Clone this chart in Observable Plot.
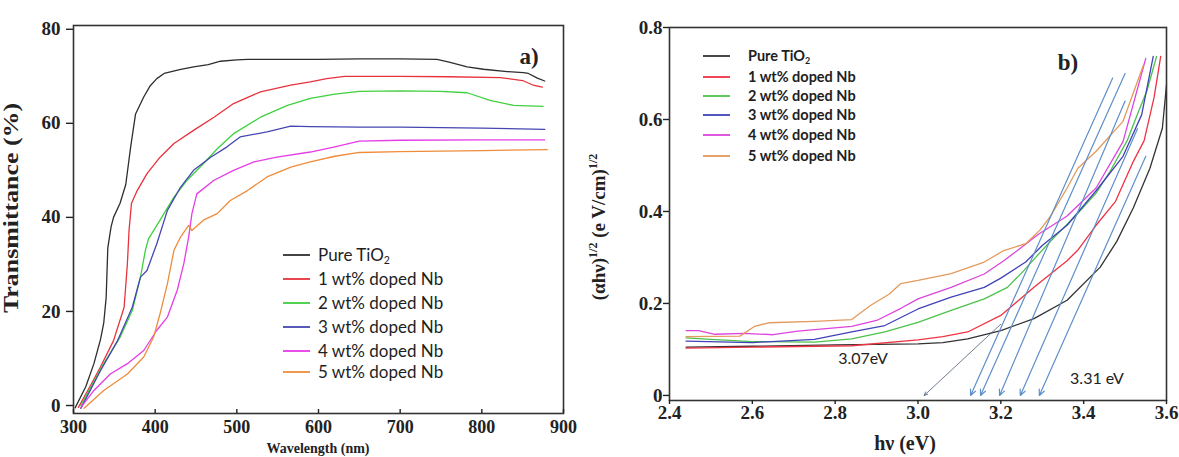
<!DOCTYPE html>
<html><head><meta charset="utf-8">
<script src="https://cdn.jsdelivr.net/npm/d3@7"></script>
<script src="https://cdn.jsdelivr.net/npm/@observablehq/plot@0.6"></script>
<style>
html,body{margin:0;padding:0;background:#fff;overflow:hidden}
#wrap{position:relative;width:1179px;height:457px;overflow:hidden}
#a{position:absolute;left:0;top:0}
#b{position:absolute;left:590px;top:0}
</style></head><body><div id="wrap"><div id="a"></div><div id="b"></div></div>
<script>
// ---------- Data: panel a) Transmittance ----------
const seriesNames = ["Pure TiO2","1 wt% doped Nb","2 wt% doped Nb","3 wt% doped Nb","4 wt% doped Nb","5 wt% doped Nb"];
const xTicksA = [300,400,500,600,700,800,900];
const yTicksA = [0,20,40,60,80];

const pureWl = [302,315,325,333,337,340,342,346,349,357,364,370,376,386,394,402,411,430,447,465,480,500,513,550,600,650,700,745,760,782,802,831,851,857,868,877];
const pureT  = [-0.5,4,8.9,14,17.5,23,33.5,38,40,43,47,55,62,65.6,68,69.5,70.6,71.4,72,72.5,73.2,73.5,73.6,73.6,73.6,73.7,73.7,73.6,73,72,71.5,71,70.8,70.6,69.6,69];
const nb1Wl = [306,320,333,349,362,366,368,371,378,390,406,423,447,472,496,529,566,590,610,632,700,760,823,850,863,874];
const nb1T  = [-0.4,4,8.2,13.8,20.9,30.2,37.2,43,45.7,49.3,52.8,55.7,58.5,61.3,64.2,66.7,68.1,68.8,69.5,70,70,69.9,69.7,69.1,68.1,67.7];
const nb2Wl = [309,337,357,372,382,388,392,406,423,439,459,476,496,529,562,590,620,650,700,749,782,810,839,875];
const nb2T  = [0,8.9,14.5,20.2,27.3,33,35.5,39.4,44.3,47.9,51.4,54.6,57.8,61.3,63.8,65.3,66.2,66.8,66.9,66.8,66.5,64.9,63.8,63.6];
const nb3Wl = [309,333,354,372,382,390,402,415,431,447,468,488,504,537,566,590,650,700,800,877];
const nb3T  = [-0.6,7.4,13.8,20.9,27.3,28.7,34.4,41.5,46.4,50,52.8,55,57.1,58.2,59.4,59.3,59.2,59.2,59,58.7];
const nb4Wl = [309,325,345,366,386,402,415,427,435,441,445,451,472,496,521,549,590,620,650,700,800,877];
const nb4T  = [-0.4,3.2,6.7,8.9,11.7,16,18.8,24.5,30.1,35.8,40.8,45,47.9,50,51.8,52.8,53.9,55,56.2,56.4,56.5,56.5];
const nb5Wl = [313,337,366,386,398,406,415,423,431,441,445,459,476,492,513,537,566,590,620,650,700,800,880];
const nb5T  = [-0.6,3.2,6.7,10.3,14.5,19.5,25.9,33,35.8,38.3,37.2,39.4,40.8,43.6,45.7,48.6,50.7,51.8,53,53.8,54,54.2,54.4];

// ---------- Data: panel b) Tauc plot ----------
const xTicksB = [2.4,2.6,2.8,3.0,3.2,3.4,3.6];
const xTickLabelsB = ["2.4","2.6","2.8","3.0","3.2","3.4","3.6"];
const yTicksB = [0,0.2,0.4,0.6,0.8];
const yTickLabelsB = ["0","0.2","0.4","0.6","0.8"];

const pureE = [2.44,2.6,2.8,3.0,3.06,3.12,3.2,3.28,3.36,3.44,3.48,3.52,3.56,3.59,3.6];
const pureV = [0.105,0.107,0.11,0.112,0.115,0.123,0.141,0.167,0.207,0.279,0.335,0.408,0.494,0.581,0.675];
const nb1E = [2.44,2.6,2.84,3.0,3.06,3.12,3.2,3.28,3.36,3.385,3.43,3.477,3.52,3.546,3.57,3.586];
const nb1V = [0.103,0.105,0.108,0.121,0.128,0.138,0.174,0.235,0.293,0.315,0.37,0.422,0.509,0.554,0.648,0.737];
const nb2E = [2.44,2.5,2.6,2.75,2.84,2.92,3.0,3.08,3.16,3.216,3.256,3.288,3.33,3.38,3.43,3.465,3.505,3.53,3.553,3.576];
const nb2V = [0.125,0.122,0.117,0.116,0.123,0.138,0.159,0.185,0.21,0.235,0.272,0.304,0.345,0.39,0.44,0.489,0.554,0.612,0.663,0.737];
const nb3E = [2.44,2.6,2.75,2.84,2.92,3.0,3.08,3.16,3.2,3.26,3.3,3.36,3.43,3.495,3.54,3.568];
const nb3V = [0.118,0.115,0.122,0.138,0.152,0.188,0.214,0.235,0.255,0.29,0.326,0.37,0.445,0.52,0.61,0.737];
const nb4E = [2.44,2.47,2.51,2.58,2.65,2.71,2.84,2.9,2.96,3.0,3.08,3.16,3.207,3.24,3.29,3.36,3.43,3.495,3.55];
const nb4V = [0.141,0.141,0.133,0.135,0.132,0.14,0.15,0.163,0.19,0.21,0.235,0.264,0.293,0.315,0.35,0.39,0.451,0.552,0.733];
const nb5E = [2.44,2.57,2.605,2.64,2.75,2.84,2.886,2.93,2.958,3.0,3.08,3.16,3.207,3.26,3.295,3.32,3.36,3.386,3.43,3.495,3.545];
const nb5V = [0.128,0.129,0.15,0.158,0.161,0.165,0.196,0.22,0.243,0.25,0.265,0.29,0.315,0.33,0.36,0.39,0.451,0.494,0.531,0.596,0.72];

// tangent (extrapolation) arrows: start on curve, end on the energy axis
const tangentTopE = [3.47,3.50,3.50,3.53,3.55];
const tangentTopV = [0.69,0.70,0.64,0.58,0.52];
const tangentEndE = [3.127,3.151,3.197,3.247,3.293];
const guideTopE = [3.20];
const guideTopV = [0.155];
const guideEndE = [3.015];

const colorsA = ["#2e2e2e","#e8323c","#3fd03f","#4646b2","#e63ce6","#ee8c3c"];
const colorsB = ["#333333","#ee3344","#4cc24c","#4242b8","#dd44dd","#e39a5c"];

// ---------- build tidy tables ----------
function tidy(pairs, xk, yk) {
  const out = [];
  pairs.forEach(([xs, ys], i) => xs.forEach((x, j) => out.push({s: seriesNames[i], [xk]: x, [yk]: ys[j]})));
  return out;
}
const dataA = tidy([[pureWl,pureT],[nb1Wl,nb1T],[nb2Wl,nb2T],[nb3Wl,nb3T],[nb4Wl,nb4T],[nb5Wl,nb5T]], "x", "y");
const dataB = tidy([[pureE,pureV],[nb1E,nb1V],[nb2E,nb2V],[nb3E,nb3V],[nb4E,nb4V],[nb5E,nb5V]], "x", "y");
const tangents = tangentTopE.map((e, i) => ({x1: e, y1: tangentTopV[i], x2: tangentEndE[i], y2: 0}));
const guides = guideTopE.map((e, i) => ({x1: e, y1: guideTopV[i], x2: guideEndE[i], y2: 0}));

const serif = "'Liberation Serif', 'Times New Roman', serif";
const sans = "Lato, 'Open Sans', 'Liberation Sans', sans-serif";

// ---------- panel a ----------
const plotA = Plot.plot({
  width: 590, height: 457,
  marginLeft: 73, marginRight: 27, marginTop: 25, marginBottom: 44,
  style: {background: "white", color: "#222", overflow: "visible"},
  x: {domain: [300, 900]},
  y: {domain: [-1.7, 80.8]},
  color: {domain: seriesNames, range: colorsA},
  marks: [
    Plot.line(dataA, {x: "x", y: "y", z: "s", stroke: "s", strokeWidth: 1.3}),
    Plot.frame({stroke: "#333", strokeWidth: 1.6}),
    Plot.axisX({ticks: xTicksA, tickSize: -4, tickPadding: 11, label: null, fontSize: 18, fontWeight: "bold", fontFamily: serif, strokeWidth: 1.4}),
    Plot.axisY({ticks: yTicksA, tickSize: 7, tickPadding: 6, label: null, fontSize: 19, fontWeight: "bold", fontFamily: serif, strokeWidth: 1.4})
  ]
});
document.getElementById("a").appendChild(plotA);

// ---------- panel b ----------
const plotB = Plot.plot({
  width: 589, height: 457,
  marginLeft: 79, marginRight: 13, marginTop: 27, marginBottom: 57,
  style: {background: "white", color: "#222", overflow: "visible"},
  x: {domain: [2.4, 3.6]},
  y: {domain: [-0.011, 0.8]},
  color: {domain: seriesNames, range: colorsB},
  marks: [
    Plot.line(dataB, {x: "x", y: "y", z: "s", stroke: "s", strokeWidth: 1.3}),
    Plot.arrow(guides, {x1: "x1", y1: "y1", x2: "x2", y2: "y2", stroke: "#4d5d74", strokeWidth: 0.8, headLength: 7, headAngle: 50}),
    Plot.arrow(tangents, {x1: "x1", y1: "y1", x2: "x2", y2: "y2", stroke: "#5f8fca", strokeWidth: 1.2, headLength: 8, headAngle: 50}),
    Plot.frame({stroke: "#333", strokeWidth: 1.6}),
    Plot.axisX({ticks: xTicksB, tickFormat: (d, i) => xTickLabelsB[i], tickSize: 4, tickPadding: 1, label: null, fontSize: 19, fontWeight: "bold", fontFamily: serif, strokeWidth: 1.4}),
    Plot.axisY({ticks: yTicksB, tickFormat: (d, i) => yTickLabelsB[i], tickSize: 6, tickPadding: 1, label: null, fontSize: 19, fontWeight: "bold", fontFamily: serif, strokeWidth: 1.4})
  ]
});
document.getElementById("b").appendChild(plotB);

// ---------- annotations: titles, legends, labels ----------
function addText(svg, x, y, txt, o = {}) {
  const t = svg.append("text").attr("x", x).attr("y", y)
    .attr("font-family", o.family || serif).attr("font-size", o.size || 19)
    .attr("font-weight", o.weight || "bold").attr("fill", o.fill || "#222")
    .attr("text-anchor", o.anchor || "middle");
  if (o.rotate) t.attr("transform", `rotate(-90 ${x} ${y})`);
  if (o.textLength) t.attr("textLength", o.textLength).attr("lengthAdjust", "spacingAndGlyphs");
  t.text(txt);
  return t;
}
function legend(svg, x0, x1, xt, rows, colors, size, weight) {
  seriesNames.forEach((name, i) => {
    svg.append("line").attr("x1", x0).attr("x2", x1).attr("y1", rows[i]).attr("y2", rows[i])
      .attr("stroke", colors[i]).attr("stroke-width", 1.8);
    const t = svg.append("text").attr("x", xt).attr("y", rows[i]).attr("dy", "0.36em")
      .attr("text-anchor", "start")
      .attr("font-family", sans).attr("font-size", size).attr("font-weight", weight).attr("fill", "#1e1e1e");
    if (i === 0) {
      t.append("tspan").text("Pure TiO");
      t.append("tspan").attr("font-size", size * 0.62).attr("dy", "0.3em").text("2");
    } else t.text(name);
  });
}

const sa = d3.select(plotA);
addText(sa, 18, 208, "Transmittance (%)", {rotate: true, size: 20, textLength: 210});
addText(sa, 318, 453, "Wavelength (nm)", {size: 14});
addText(sa, 529, 64, "a)", {size: 23});
legend(sa, 283, 310, 318, [255, 279, 303, 327, 351, 372], colorsA, 17, "normal");

const sb = d3.select(plotB);
const yl = sb.append("text").attr("x", 15).attr("y", 227).attr("text-anchor", "middle")
  .attr("font-family", serif).attr("font-size", 19).attr("font-weight", "bold").attr("fill", "#222")
  .attr("transform", "rotate(-90 15 227)");
yl.append("tspan").text("(\u03b1h\u03bd)");
yl.append("tspan").attr("font-size", 12).attr("dy", "-0.7em").text("1/2");
yl.append("tspan").attr("dy", "0.45em").text(" (e V/cm)");
yl.append("tspan").attr("font-size", 12).attr("dy", "-0.7em").text("1/2");
addText(sb, 315, 450, "h\u03bd (eV)", {size: 20});
addText(sb, 478, 70, "b)", {size: 23});
addText(sb, 273, 364, "3.07eV", {family: sans, size: 16, weight: "normal"});
addText(sb, 507, 384, "3.31 eV", {family: sans, size: 16, weight: "normal"});
legend(sb, 113, 140, 158, [56, 77, 96, 115, 135, 156], colorsB, 14.5, "bold");
</script></body></html>
